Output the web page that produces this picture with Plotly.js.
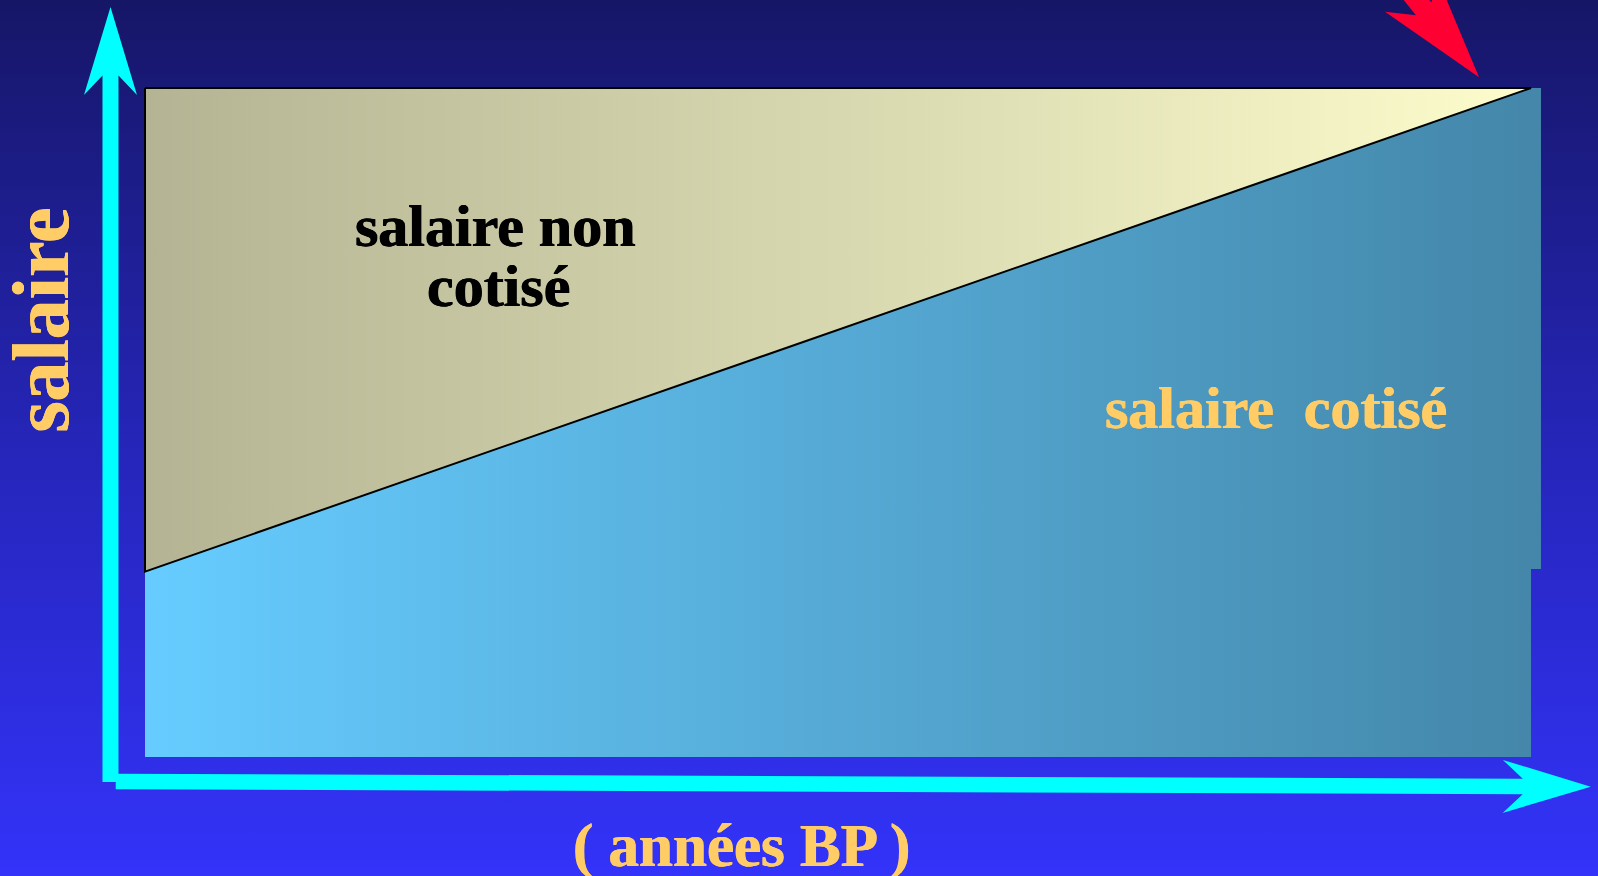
<!DOCTYPE html>
<html>
<head>
<meta charset="utf-8">
<script src="https://cdn.plot.ly/plotly-3.0.1.min.js"></script>
<style>
  html, body { margin: 0; padding: 0; overflow: hidden; }
  body { width: 1598px; height: 876px; background: linear-gradient(to bottom, #161667 0%, #2525b8 50%, #3333fa 100%); }
  #chart { width: 1598px; height: 876px; }
</style>
</head>
<body>
<div id="chart"></div>
<script>
// ---- Diagram values (x: career in % of years, y: salary in % of total) ----
const annees = [0, 100];            // début et fin de carrière (années BP)
const salaireTotal = [100, 100];    // salaire total (haut du cadre)
const salaireCotise = [27.7, 100];  // part cotisée, croissante
const salairePlancher = [0, 0];     // bas du cadre

// Labels
const labelNonCotise = ['salaire non', 'cotisé'];
const labelCotise = 'salaire\u00a0\u00a0cotisé';
const labelY = 'salaire';
const labelX = '( années BP )';

// ---- Layout geometry ----
const W = 1598, H = 876;
const X_RANGE = [-10.462, 104.834];
const Y_RANGE = [-17.788, 113.154];
const kx = W / (X_RANGE[1] - X_RANGE[0]);
const ky = H / (Y_RANGE[1] - Y_RANGE[0]);
const toPx = (x, y) => [(x - X_RANGE[0]) * kx, (Y_RANGE[1] - y) * ky];
const toData = (px, py) => [X_RANGE[0] + px / kx, Y_RANGE[1] - py / ky];

// arrow polygon built in screen space (sizes in px), returned in data units
function arrow(tail, tip, sw, headLen, hw, notch) {
  const T = toPx(tail[0], tail[1]), P = toPx(tip[0], tip[1]);
  const dx = P[0] - T[0], dy = P[1] - T[1];
  const L = Math.hypot(dx, dy);
  const u = [dx / L, dy / L], n = [-u[1], u[0]];
  const pt = (base, a, b) => [base[0] + u[0] * a + n[0] * b, base[1] + u[1] * a + n[1] * b];
  const pts = [
    pt(T, 0, sw / 2),
    pt(P, -(headLen - notch), sw / 2),
    pt(P, -headLen, hw),
    P,
    pt(P, -headLen, -hw),
    pt(P, -(headLen - notch), -sw / 2),
    pt(T, 0, -sw / 2),
    pt(T, 0, sw / 2)
  ].map(p => toData(p[0], p[1]));
  return { x: pts.map(p => p[0]), y: pts.map(p => p[1]) };
}

const overhangX = 100.72, overhangY = 28.1; // small offset in the original drawing

// Axis arrows (data units)
const yArrow = arrow([-2.49, -3.74], [-2.49, 112.1], 16, 88, 26.5, 19.5);
const xArrow = arrow([-2.11, -3.66], [104.31, -4.44], 15.5, 88, 26.5, 20);
const redArrow = arrow([84.9, 130.7], [96.25, 101.6], 20, 110, 32, 22);

const cotise = {
  x: [annees[0], annees[1], overhangX, overhangX, annees[1], annees[1], annees[0], annees[0]],
  y: [salaireCotise[0], salaireCotise[1], salaireTotal[1], overhangY, overhangY, salairePlancher[1], salairePlancher[0], salaireCotise[0]],
  mode: 'lines', fill: 'toself', line: { width: 0, color: 'rgba(0,0,0,0)' },
  fillcolor: '#55aadd',
  fillgradient: { type: 'horizontal', start: annees[0], stop: annees[1], colorscale: [[0, '#66ccff'], [1, '#4487aa']] },
  hoverinfo: 'skip', showlegend: false
};

const nonCotise = {
  x: [annees[0], annees[1], annees[0], annees[0]],
  y: [salaireTotal[0], salaireCotise[1], salaireCotise[0], salaireTotal[0]],
  mode: 'lines', fill: 'toself', line: { width: 2, color: '#000000' },
  fillcolor: '#d8d8b0',
  fillgradient: { type: 'horizontal', start: annees[0], stop: annees[1], colorscale: [[0, '#b4b494'], [1, '#fcfccc']] },
  hoverinfo: 'skip', showlegend: false
};

const arrowTrace = (a, color) => ({
  x: a.x, y: a.y, mode: 'lines', fill: 'toself', fillcolor: color,
  line: { width: 0, color: color }, hoverinfo: 'skip', showlegend: false
});

const data = [
  cotise,
  nonCotise,
  arrowTrace(yArrow, '#00ffff'),
  arrowTrace(xArrow, '#00ffff'),
  arrowTrace(redArrow, '#ff0033')
];

const serif = '"Liberation Serif", "Times New Roman", serif';
const gold = '#ffcc66';
const ann = (text, x, y, size, color, angle) => ({
  text, x, y, xref: 'x', yref: 'y', showarrow: false, textangle: angle || 0,
  xanchor: 'center', yanchor: 'middle',
  font: { family: serif, size, color, weight: 'bold',
          shadow: `0.5px 0 0 ${color}, -0.5px 0 0 ${color}` }
});

const layout = {
  width: W, height: H,
  margin: { l: 0, r: 0, t: 0, b: 0, pad: 0 },
  paper_bgcolor: 'rgba(0,0,0,0)',
  plot_bgcolor: 'rgba(0,0,0,0)',
  showlegend: false,
  xaxis: { range: X_RANGE, visible: false, fixedrange: true },
  yaxis: { range: Y_RANGE, visible: false, fixedrange: true },
  annotations: [
    ann(labelNonCotise[0], 25.3, 79.4, 60, '#000000'),
    ann(labelNonCotise[1], 25.5, 70.4, 60, '#000000'),
    ann(labelCotise, 81.6, 52.2, 60, gold),
    ann(labelY, -7.5, 65.25, 80, gold, -90),
    ann(labelX, 43.07, -13.3, 61, gold)
  ]
};

Plotly.newPlot('chart', data, layout, { displayModeBar: false, staticPlot: true });
</script>
</body>
</html>
